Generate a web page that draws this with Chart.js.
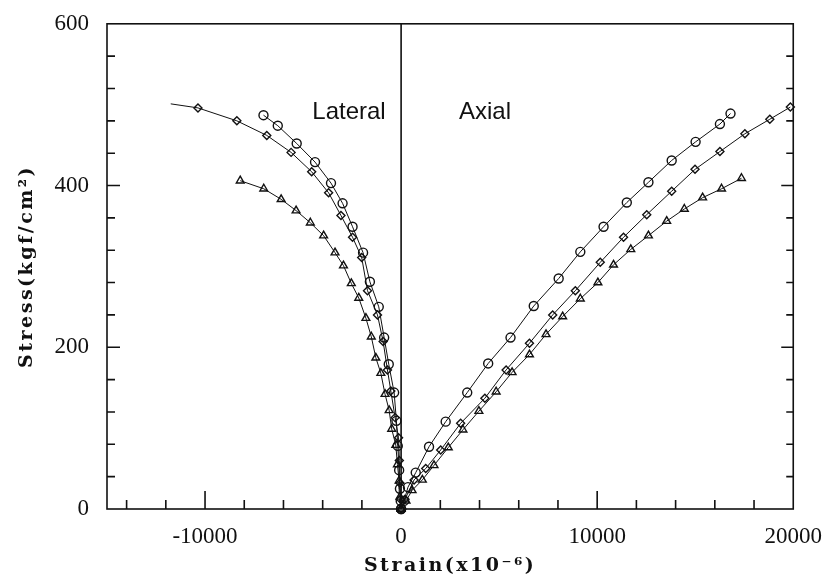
<!DOCTYPE html>
<html>
<head>
<meta charset="utf-8">
<script src="https://cdn.jsdelivr.net/npm/chart.js"></script>
<style>
  html, body { margin: 0; padding: 0; background: #fff; }
  #wrap { width: 828px; height: 579px; position: relative; }
</style>
</head>
<body>
<div id="wrap"><canvas id="c"></canvas></div>
<script>
// strain (x10^-6) and stress (kgf/cm2)
// circles
var circleLatX  = [0, -20, -60, -100, -170, -239, -356, -630, -865, -1140, -1592, -1940, -2476, -2985, -3576, -4390, -5325, -6290, -7019];
var circleLatY  = [0, 10, 25, 48, 78, 109, 144, 179, 212, 250, 281, 317, 349, 378, 403, 429, 452, 474, 487];
var circleAxX   = [0, 150, 350, 746, 1424, 2273, 3372, 4441, 5580, 6765, 8036, 9140, 10326, 11511, 12614, 13800, 15020, 16260, 16800];
var circleAxY   = [0, 10, 27, 45, 77, 108, 144, 180, 212, 251, 285, 318, 349, 379, 404, 431, 454, 476, 489];
// diamonds (first lateral point at the far left has no marker)
var diamondLatX = [0, -30, -60, -90, -130, -305, -524, -697, -916, -1205, -1714, -2010, -2476, -3068, -3697, -4561, -5611, -6851, -8377, -10360, -11750];
var diamondLatY = [0, 12, 32, 60, 88, 113, 146, 172, 207, 240, 270, 311, 336, 363, 391, 417, 441, 462, 480, 496, 501];
var diamondAxX  = [0, 200, 661, 1256, 2019, 3036, 4273, 5356, 6546, 7731, 8886, 10157, 11343, 12528, 13800, 14990, 16260, 17533, 18805, 19853];
var diamondAxY  = [0, 12, 36, 50, 73, 106, 137, 172, 205, 240, 270, 305, 336, 364, 393, 420, 442, 464, 482, 497];
// triangles
var triLatX = [0, -60, -100, -188, -270, -480, -610, -820, -1033, -1290, -1520, -1796, -2160, -2540, -2940, -3370, -3952, -4629, -5356, -6119, -7004, -8205];
var triLatY = [0, 15, 35, 55, 79, 99, 122, 142, 168, 187, 213, 236, 261, 279, 301, 317, 338, 354, 369, 383, 396, 406];
var triAxX  = [0, 250, 560, 1083, 1678, 2406, 3154, 3967, 4848, 5661, 6546, 7391, 8240, 9140, 10036, 10834, 11714, 12614, 13545, 14445, 15377, 16343, 17360];
var triAxY  = [0, 10, 23, 36, 54, 76, 98, 121, 145, 169, 191, 216, 238, 260, 280, 302, 321, 338, 356, 371, 385, 396, 409];

var xTickValues = [-10000, 0, 10000, 20000];
var yTickValues = [0, 200, 400, 600];
var branchNames = ['Lateral', 'Axial'];

function pts(xs, ys){
	return xs.map(function(v, i){ return {x: v, y: ys[i]}; });
}

function series(xs, ys, style, radius){
	return {
		data: pts(xs, ys),
		showLine: true,
		borderColor: '#111',
		borderWidth: 1,
		tension: 0,
		pointStyle: style,
		pointRadius: radius,
		pointBorderColor: '#111',
		pointBorderWidth: 1.4,
		pointBackgroundColor: 'rgba(0,0,0,0)',
		clip: false
	};
}

// no marker on the leftmost diamond point
var diamondLatRadius = diamondLatX.map(function(v, i){ return i === diamondLatX.length - 1 ? 0 : 4; });

// frame, zero line and inward tick marks
var framePlugin = {
	id: 'frame',
	beforeDatasetsDraw: function(chart){
		var ctx = chart.ctx, a = chart.chartArea, x = chart.scales.x, y = chart.scales.y;
		var v, p, len;
		ctx.save();
		ctx.strokeStyle = '#111';
		ctx.lineWidth = 1.6;
		ctx.strokeRect(a.left, a.top, a.right - a.left, a.bottom - a.top);
		ctx.beginPath();
		p = x.getPixelForValue(0);
		ctx.moveTo(p, a.top); ctx.lineTo(p, a.bottom);
		for (v = -14000; v <= 18000; v += 2000){
			p = x.getPixelForValue(v);
			len = v % 10000 === 0 ? 18 : 9;
			ctx.moveTo(p, a.bottom); ctx.lineTo(p, a.bottom - len);
		}
		for (v = 40; v < 600; v += 40){
			p = y.getPixelForValue(v);
			len = v % 200 === 0 ? 13 : 8;
			ctx.moveTo(a.left, p); ctx.lineTo(a.left + len, p);
			ctx.moveTo(a.right, p); ctx.lineTo(a.right - len + 1, p);
		}
		ctx.stroke();
		ctx.restore();
	}
};

var labelPlugin = {
	id: 'branchLabels',
	afterDatasetsDraw: function(chart){
		var ctx = chart.ctx, x = chart.scales.x, y = chart.scales.y;
		var at = [[-4530, 491], [2950, 490]];
		ctx.save();
		ctx.font = '24px "Liberation Sans", Arial, sans-serif';
		ctx.fillStyle = '#111';
		ctx.textAlign = 'left';
		ctx.textBaseline = 'middle';
		branchNames.forEach(function(t, i){
			ctx.fillText(t, x.getPixelForValue(at[i][0]), y.getPixelForValue(at[i][1]));
		});
		ctx.restore();
	}
};

// spaced-out axis titles like the original
var spacedTitles = {
	id: 'spacedTitles',
	afterLayout: function(chart){
		['x', 'y'].forEach(function(id){
			var s = chart.scales[id];
			if (s._spaced) return;
			var orig = s.drawTitle;
			s.drawTitle = function(){
				this.ctx.save();
				this.ctx.letterSpacing = '2.5px';
				orig.apply(this, arguments);
				this.ctx.restore();
			};
			s._spaced = true;
		});
	}
};

var titleFont = {family: '"DejaVu Serif", serif', size: 19, weight: 'bold'};
var tickFont = {family: '"Liberation Serif", "Times New Roman", serif', size: 23};
var plainNum = function(v){ return String(v); };

new Chart(document.getElementById('c'), {
	type: 'scatter',
	data: {
		datasets: [
			series(circleLatX, circleLatY, 'circle', 4.5),
			series(circleAxX, circleAxY, 'circle', 4.5),
			series(diamondLatX, diamondLatY, 'rectRot', diamondLatRadius),
			series(diamondAxX, diamondAxY, 'rectRot', 4),
			series(triLatX, triLatY, 'triangle', 4.5),
			series(triAxX, triAxY, 'triangle', 4.5)
		]
	},
	plugins: [framePlugin, labelPlugin, spacedTitles],
	options: {
		responsive: true,
		maintainAspectRatio: false,
		animation: false,
		layout: {padding: {top: 19, right: 33, bottom: 0, left: 0}},
		plugins: {legend: {display: false}, tooltip: {enabled: false}},
		scales: {
			x: {
				type: 'linear',
				min: -15000,
				max: 20000,
				grid: {display: false},
				border: {display: false},
				afterBuildTicks: function(s){ s.ticks = xTickValues.map(function(v){ return {value: v}; }); },
				afterFit: function(s){ s.height = 70; },
				ticks: {font: tickFont, color: '#111', padding: 6, maxRotation: 0, autoSkip: false, callback: plainNum},
				title: {display: true, text: 'Strain(x10⁻⁶)', font: titleFont, color: '#111', padding: {top: 0, bottom: 2}}
			},
			y: {
				type: 'linear',
				min: 0,
				max: 600,
				grid: {display: false},
				border: {display: false},
				afterBuildTicks: function(s){ s.ticks = yTickValues.map(function(v){ return {value: v}; }); },
				afterFit: function(s){ s.width = 107; },
				ticks: {font: tickFont, color: '#111', padding: 10, callback: plainNum},
				title: {display: true, text: 'Stress(kgf/cm²)', font: titleFont, color: '#111', padding: {top: 16, bottom: 0}}
			}
		}
	}
});
</script>
</body>
</html>
